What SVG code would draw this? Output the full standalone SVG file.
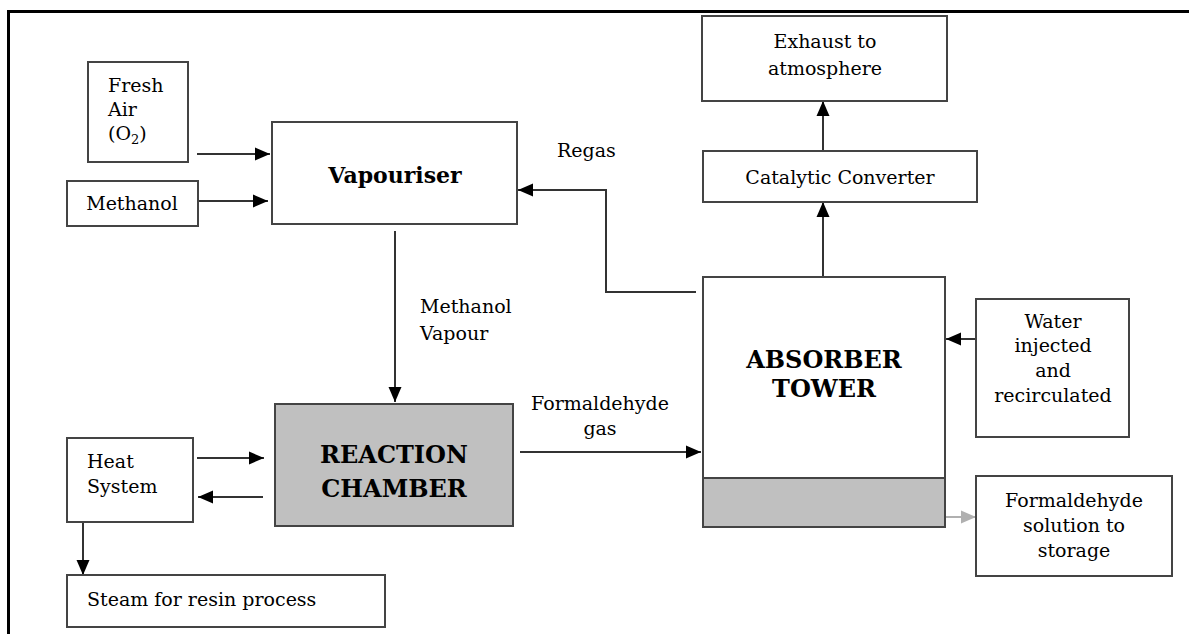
<svg xmlns="http://www.w3.org/2000/svg" width="1189" height="634" viewBox="0 0 1189 634">
<style>
.box{fill:#fff;stroke:#444;stroke-width:2}
.grey{fill:#c0c0c0;stroke:#444;stroke-width:2}
.t{font-family:"DejaVu Serif","Liberation Serif",serif;font-size:19px;fill:#000}
.b{font-family:"DejaVu Serif","Liberation Serif",serif;font-weight:bold;fill:#000}
.c{stroke:#333;stroke-width:2;fill:none}
</style>
<defs>
<marker id="ah" markerUnits="userSpaceOnUse" markerWidth="16" markerHeight="16" refX="15" refY="8" orient="auto">
<path d="M0,1.5 L15,8 L0,14.5 z" fill="#000"/>
</marker>
<marker id="ahg" markerUnits="userSpaceOnUse" markerWidth="16" markerHeight="16" refX="15" refY="8" orient="auto">
<path d="M0,1.5 L15,8 L0,14.5 z" fill="#b0b0b0"/>
</marker>
</defs>
<rect x="0" y="0" width="1189" height="634" fill="#fff"/>
<path d="M8.5,634 V11.5 H1189" fill="none" stroke="#000" stroke-width="3"/>

<g id="connectors">
<path class="c" d="M197,154 H270" marker-end="url(#ah)"/>
<path class="c" d="M198,201 H268" marker-end="url(#ah)"/>
<path class="c" d="M395,231 V402" marker-end="url(#ah)"/>
<path class="c" d="M696,292 H606 V190 H518" marker-end="url(#ah)"/>
<path class="c" d="M197,458 H264" marker-end="url(#ah)"/>
<path class="c" d="M263,497 H198" stroke-width="3" marker-end="url(#ah)"/>
<path class="c" d="M83,522 V575" marker-end="url(#ah)"/>
<path class="c" d="M520,452 H701" marker-end="url(#ah)"/>
<path class="c" d="M823,277 V202" marker-end="url(#ah)"/>
<path class="c" d="M823,151 V101" marker-end="url(#ah)"/>
<path class="c" d="M976,339 H946" marker-end="url(#ah)"/>
<path d="M946,517 H976" stroke="#b0b0b0" stroke-width="2" fill="none" marker-end="url(#ahg)"/>
</g>

<g id="fresh-air">
<rect class="box" x="88" y="62" width="100" height="100"/>
<text class="t" x="108" y="92">Fresh</text>
<text class="t" x="108" y="116">Air</text>
<text class="t" x="108" y="140">(O<tspan font-size="13" dy="4">2</tspan><tspan dy="-4">)</tspan></text>
</g>
<g id="methanol">
<rect class="box" x="67" y="181" width="131" height="45"/>
<text class="t" x="132" y="210" text-anchor="middle">Methanol</text>
</g>
<g id="vapouriser">
<rect class="box" x="272" y="122" width="245" height="102"/>
<text class="b" x="395" y="183" text-anchor="middle" font-size="22">Vapouriser</text>
</g>
<g id="regas-label">
<text class="t" x="557" y="157">Regas</text>
</g>
<g id="exhaust">
<rect class="box" x="702" y="16" width="245" height="85"/>
<text class="t" x="825" y="48" text-anchor="middle">Exhaust to</text>
<text class="t" x="825" y="75" text-anchor="middle">atmosphere</text>
</g>
<g id="catalytic">
<rect class="box" x="703" y="151" width="274" height="51"/>
<text class="t" x="840" y="184" text-anchor="middle">Catalytic Converter</text>
</g>
<g id="methanol-vapour-label">
<text class="t" x="420" y="313">Methanol</text>
<text class="t" x="420" y="340">Vapour</text>
</g>
<g id="absorber">
<rect class="box" x="703" y="277" width="242" height="250"/>
<rect class="grey" x="703" y="478" width="242" height="49"/>
<text class="b" x="824" y="368" text-anchor="middle" font-size="24">ABSORBER</text>
<text class="b" x="824" y="397" text-anchor="middle" font-size="24">TOWER</text>
</g>
<g id="water">
<rect class="box" x="976" y="299" width="153" height="138"/>
<text class="t" x="1053" y="328" text-anchor="middle">Water</text>
<text class="t" x="1053" y="352" text-anchor="middle">injected</text>
<text class="t" x="1053" y="377" text-anchor="middle">and</text>
<text class="t" x="1053" y="402" text-anchor="middle">recirculated</text>
</g>
<g id="storage">
<rect class="box" x="976" y="476" width="196" height="100"/>
<text class="t" x="1074" y="507" text-anchor="middle">Formaldehyde</text>
<text class="t" x="1074" y="532" text-anchor="middle">solution to</text>
<text class="t" x="1074" y="557" text-anchor="middle">storage</text>
</g>
<g id="formaldehyde-gas-label">
<text class="t" x="600" y="410" text-anchor="middle">Formaldehyde</text>
<text class="t" x="600" y="435" text-anchor="middle">gas</text>
</g>
<g id="reaction">
<rect class="grey" x="275" y="404" width="238" height="122"/>
<text class="b" x="394" y="463" text-anchor="middle" font-size="24">REACTION</text>
<text class="b" x="394" y="497" text-anchor="middle" font-size="24">CHAMBER</text>
</g>
<g id="heat">
<rect class="box" x="67" y="438" width="126" height="84"/>
<text class="t" x="87" y="468">Heat</text>
<text class="t" x="87" y="493">System</text>
</g>
<g id="steam">
<rect class="box" x="67" y="575" width="318" height="52"/>
<text class="t" x="87" y="606">Steam for resin process</text>
</g>
</svg>
